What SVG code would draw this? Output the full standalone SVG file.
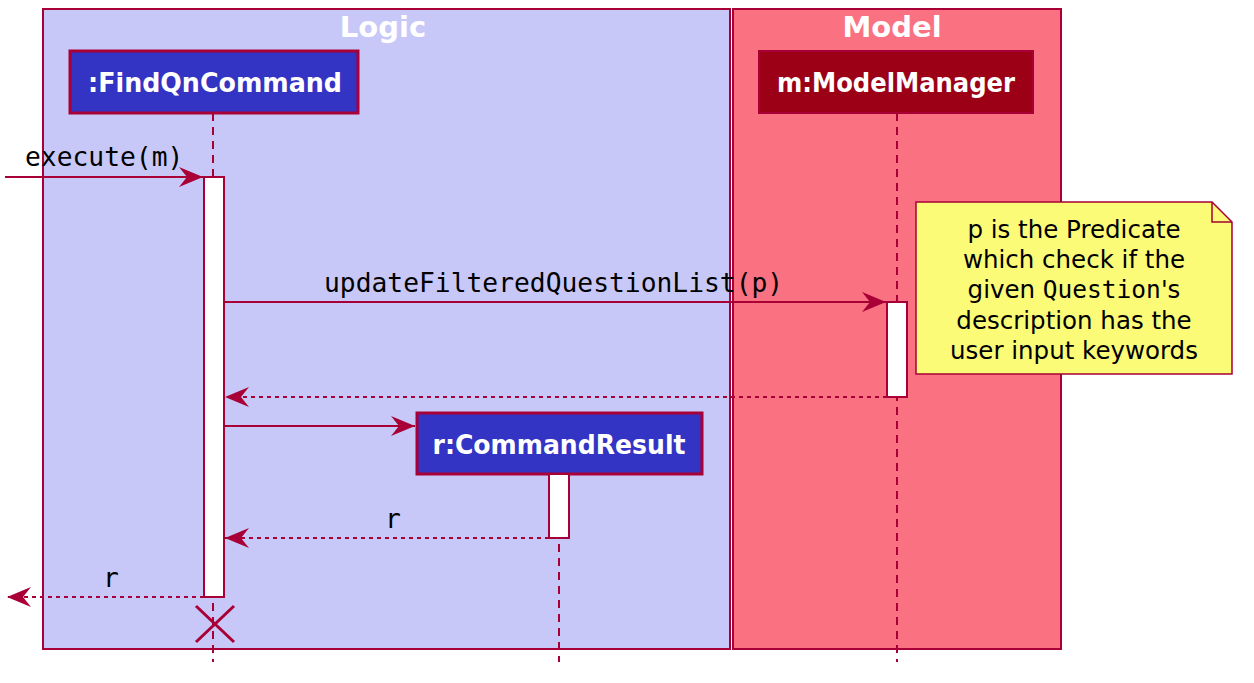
<svg xmlns="http://www.w3.org/2000/svg" width="1254" height="683" viewBox="0 0 1254 683">
<style>
.box{stroke:#A80036;stroke-width:2}
.pbox{stroke:#A80036;stroke-width:3}
.title{font-family:"DejaVu Sans",sans-serif;font-weight:bold;font-size:29px;fill:#FFFFFF;text-anchor:middle}
.pname{font-family:"DejaVu Sans",sans-serif;font-weight:bold;font-size:26.5px;fill:#FFFFFF;text-anchor:middle}
.life{stroke:#A80036;stroke-width:2;stroke-dasharray:8,6;fill:none}
.act{fill:#FFFFFF;stroke:#A80036;stroke-width:2}
.msg{stroke:#A80036;stroke-width:2;fill:none}
.ret{stroke:#A80036;stroke-width:2;fill:none;stroke-dasharray:4,4}
.lbl{font-family:"DejaVu Sans Mono",monospace;font-size:26.3px;fill:#000000}
.note{font-family:"DejaVu Sans",sans-serif;font-size:24.5px;fill:#000000;text-anchor:middle}
.mono{font-family:"DejaVu Sans Mono",monospace}
</style>
<defs>
<marker id="ah" viewBox="0 0 24 20" refX="24" refY="10" markerWidth="24" markerHeight="20" markerUnits="userSpaceOnUse" orient="auto">
<path d="M0,0 L24,10 L0,20 L8,10 Z" fill="#A80036"/>
</marker>
</defs>
<rect width="1254" height="683" fill="#FFFFFF"/>
<g id="box-logic">
<rect class="box" x="43" y="9" width="687" height="640" fill="#C8C8F8"/>
<text class="title" x="383" y="37">Logic</text>
</g>
<g id="box-model">
<rect class="box" x="733" y="9" width="328" height="640" fill="#FA7181"/>
<text class="title" x="892" y="37">Model</text>
</g>
<g id="lifelines">
<line class="life" x1="213" y1="113" x2="213" y2="662"/>
<line class="life" x1="897" y1="113" x2="897" y2="662"/>
<line class="life" x1="559" y1="474" x2="559" y2="662"/>
</g>
<g id="p-findqn">
<rect class="pbox" x="70" y="51" width="288" height="62" fill="#3333C4"/>
<text class="pname" x="215" y="92" textLength="254" lengthAdjust="spacingAndGlyphs">:FindQnCommand</text>
</g>
<g id="p-model">
<rect class="box" x="759" y="51" width="274" height="62" fill="#9B0016"/>
<text class="pname" x="896" y="92" textLength="238" lengthAdjust="spacingAndGlyphs">m:ModelManager</text>
</g>
<g id="p-result">
<rect class="pbox" x="417" y="413" width="285" height="61" fill="#3333C4"/>
<text class="pname" x="559" y="454" textLength="253" lengthAdjust="spacingAndGlyphs">r:CommandResult</text>
</g>
<g id="activations">
<rect class="act" x="204" y="177" width="20" height="420"/>
<rect class="act" x="887" y="302" width="20" height="95"/>
<rect class="act" x="549" y="474" width="20" height="64"/>
</g>
<g id="note">
<path d="M916,202 L1212,202 L1232,222 L1232,374 L916,374 Z" fill="#FBFB77" stroke="#A80036" stroke-width="1.5"/>
<path d="M1212,202 L1212,222 L1232,222" fill="none" stroke="#A80036" stroke-width="1.5"/>
<text class="note" x="1074" y="238">p is the Predicate</text>
<text class="note" x="1074" y="268">which check if the</text>
<text class="note" x="1074" y="298">given <tspan class="mono">Question</tspan>'s</text>
<text class="note" x="1074" y="329">description has the</text>
<text class="note" x="1074" y="359">user input keywords</text>
</g>
<g id="connectors">
<line class="msg" x1="5" y1="177" x2="203" y2="177" marker-end="url(#ah)"/>
<text class="lbl" x="25" y="166">execute(m)</text>
<line class="msg" x1="224" y1="302" x2="886" y2="302" marker-end="url(#ah)"/>
<text class="lbl" x="324" y="292">updateFilteredQuestionList(p)</text>
<line class="ret" x1="887" y1="397" x2="225" y2="397" marker-end="url(#ah)"/>
<line class="msg" x1="224" y1="426" x2="415" y2="426" marker-end="url(#ah)"/>
<line class="ret" x1="549" y1="538" x2="225" y2="538" marker-end="url(#ah)"/>
<text class="lbl" x="385" y="528">r</text>
<line class="ret" x1="204" y1="597" x2="7" y2="597" marker-end="url(#ah)"/>
<text class="lbl" x="103" y="587">r</text>
<path d="M196,606 L234,642 M234,606 L196,642" stroke="#A80036" stroke-width="3" fill="none"/>
</g>
</svg>
